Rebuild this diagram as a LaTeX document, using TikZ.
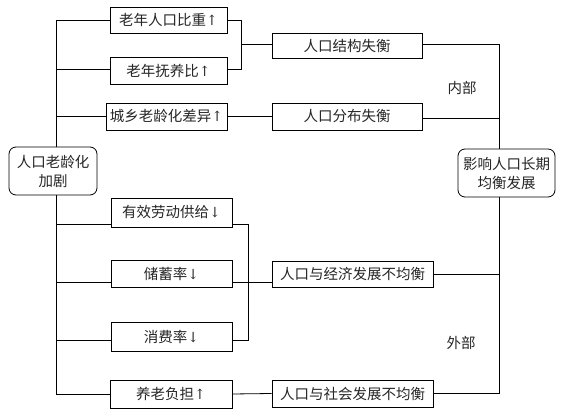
\documentclass[tikz,border=0pt]{standalone}
\usepackage{fontspec}
\setmainfont{Noto Sans CJK SC}
\newfontfamily\arrowfont{DejaVu Serif}
\newcommand\upa{{\fontsize{14}{19}\selectfont\arrowfont ↑}}
\newcommand\downa{{\fontsize{14}{19}\selectfont\arrowfont ↓}}
\begin{document}
\begin{tikzpicture}[x=1pt,y=-1pt, font=\fontsize{14.5}{19}\selectfont,
  box/.style={draw, line width=0.8pt, inner sep=0pt, fill=white, text=black!85},
  rbox/.style={box, rounded corners=7pt, align=center},
  ln/.style={line width=0.8pt},
  lbl/.style={inner sep=0pt, text=black!85}]
\useasboundingbox (0,0) rectangle (565,419);
% coordinates of vertical trunks
\coordinate (tr) at (56,0);
\coordinate (av) at (241,0);
\coordinate (ev) at (248,0);
\coordinate (rv) at (499,0);
% left column
\node[box, minimum width=117pt, minimum height=26pt] (a1) at (168.5,20) {老年人口比重\upa};
\node[box, minimum width=117pt, minimum height=27pt] (a2) at (168.5,70.5) {老年抚养比\upa};
\node[box, minimum width=121pt, minimum height=27pt] (a3) at (166.5,116.5) {城乡老龄化差异\upa};
\node[rbox, minimum width=88pt, minimum height=48pt] (root) at (53,171) {人口老龄化\\加剧};
\node[box, minimum width=121pt, minimum height=29pt] (b1) at (171.5,212.5) {有效劳动供给\downa};
\node[box, minimum width=121pt, minimum height=27pt] (b2) at (171.5,273.5) {储蓄率\downa};
\node[box, minimum width=121pt, minimum height=29pt] (b3) at (171.5,336.5) {消费率\downa};
\node[box, minimum width=122pt, minimum height=28pt] (b4) at (171,394) {养老负担\upa};
% middle column
\node[box, minimum width=150pt, minimum height=25pt] (m1) at (347,45.5) {人口结构失衡};
\node[box, minimum width=150pt, minimum height=27pt] (m2) at (347,116.5) {人口分布失衡};
\node[box, minimum width=161pt, minimum height=26pt] (m3) at (352.5,274) {人口与经济发展不均衡};
\node[box, minimum width=161pt, minimum height=27pt] (m4) at (352.5,393.5) {人口与社会发展不均衡};
% goal
\node[rbox, minimum width=97pt, minimum height=48pt] (goal) at (506.5,173) {影响人口长期\\均衡发展};
% labels
\node[lbl] (inner) at (462,88) {内部};
\node[lbl] (outer) at (461,343) {外部};
% left trunk
\draw[ln] (a1.west) -| (tr |- root.north);
\draw[ln] (tr |- root.south) |- (b4.west);
\draw[ln] ([yshift=1.5pt]a2.west) -- ([yshift=1.5pt]a2.west -| tr);
\draw[ln] (a3.west) -- (a3.west -| tr);
\draw[ln] ([yshift=-12pt]b1.west) -- ([yshift=-12pt]b1.west -| tr);
\draw[ln] ([yshift=-8.5pt]b2.west) -- ([yshift=-8.5pt]b2.west -| tr);
\draw[ln] ([yshift=-3.5pt]b3.west) -- ([yshift=-3.5pt]b3.west -| tr);
% top bracket
\draw[ln] (a1.east) -| ([yshift=1.5pt]a2.east -| av) -- ([yshift=1.5pt]a2.east);
\draw[ln] ([yshift=1.5pt]m1.west -| av) -- ([yshift=1.5pt]m1.west);
\draw[ln] (a3.east) -- (m2.west);
% bottom bracket
\draw[ln] ([yshift=-12pt]b1.east) -| ([yshift=-3.5pt]b3.east -| ev) -- ([yshift=-3.5pt]b3.east);
\draw[ln] ([yshift=-8.5pt]b2.east) -- ([yshift=-8pt]m3.west);
\draw[ln] (b4.east) -- (m4.west);
% right trunk
\draw[ln] ([yshift=1.5pt]m1.east) -| (rv |- goal.north);
\draw[ln] (rv |- goal.south) |- (m4.east);
\draw[ln] ([yshift=-1.5pt]m2.east) -- ([yshift=-1.5pt]m2.east -| rv);
\draw[ln] (m3.east) -- (m3.east -| rv);
\end{tikzpicture}
\end{document}
